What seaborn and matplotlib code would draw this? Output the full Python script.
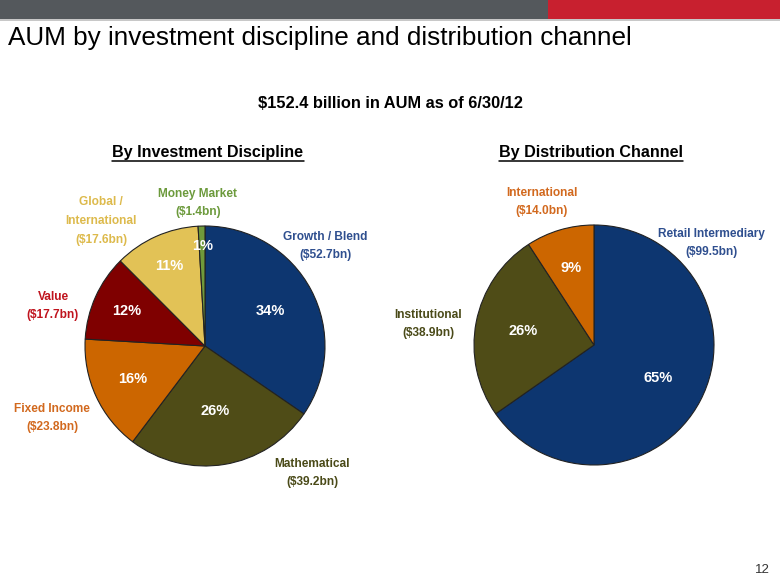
import matplotlib
matplotlib.use('Agg')
import matplotlib.pyplot as plt
import seaborn as sns
import numpy as np
from matplotlib.patches import Rectangle
from matplotlib.lines import Line2D

# ---------------- data ----------------
disc_names = ["Growth / Blend", "Mathematical", "Fixed Income", "Value", "Global /\nInternational", "Money Market"]
disc_values = [52.7, 39.2, 23.8, 17.7, 17.6, 1.4]
disc_pcts = ["34%", "26%", "16%", "12%", "11%", "1%"]

chan_names = ["Retail Intermediary", "Institutional", "International"]
chan_values = [99.5, 38.9, 14.0]
chan_pcts = ["65%", "26%", "9%"]

title = "AUM by investment discipline and distribution channel"
subtitle = "$152.4 billion in AUM as of 6/30/12"
left_header = "By Investment Discipline"
right_header = "By Distribution Channel"
page_no = "12"

# ---------------- style ----------------
W, H = 780, 585
sns.set_theme(style="white")
plt.rcParams['font.family'] = ['Liberation Sans Narrow', 'Liberation Sans', 'DejaVu Sans']

NAVY, OLIVE, ORANGE, DRED, YELLOW, GREEN = "#0D3670", "#4F4C17", "#CC6600", "#7F0000", "#E2C256", "#6F9A3B"
disc_colors = sns.color_palette([NAVY, OLIVE, ORANGE, DRED, YELLOW, GREEN])
chan_colors = sns.color_palette([NAVY, OLIVE, ORANGE])
disc_lab_colors = ["#2F4F8F", "#4A4A18", "#D2691E", "#C0141E", "#DDBA4C", "#6C9A3C"]
chan_lab_colors = ["#2F4F8F", "#4A4A18", "#D2691E"]

fig = plt.figure(figsize=(W / 100, H / 100), dpi=100)
fig.patch.set_facecolor("white")

def fx(x):
    return x / W

def fy(y):
    return 1 - y / H

# top bar
fig.patches.append(Rectangle((0, fy(19)), fx(548), 19 / H, transform=fig.transFigure,
                             facecolor="#54585C", edgecolor="none"))
fig.patches.append(Rectangle((fx(548), fy(19)), 1 - fx(548), 19 / H, transform=fig.transFigure,
                             facecolor="#C8202F", edgecolor="none"))
fig.patches.append(Rectangle((0, fy(20.5)), 1, 1.5 / H, transform=fig.transFigure,
                             facecolor="#C8C8C8", edgecolor="none"))

fig.text(fx(8), fy(38), title, fontsize=18.8, family=['Liberation Sans', 'DejaVu Sans'],
         color="black", ha="left", va="center")
fig.text(fx(390), fy(103), subtitle, fontsize=11.8, fontweight="bold", color="black",
         ha="center", va="center")

headers = []
for x, t in [(208, left_header), (591, right_header)]:
    headers.append(fig.text(fx(x), fy(152), t, fontsize=11.6, fontweight="bold",
                            color="black", ha="center", va="center"))

fig.text(fx(762), fy(570), page_no, fontsize=9.5, family=['Liberation Sans', 'DejaVu Sans'],
         color="#333333", ha="center", va="center")


def draw_pie(cx, cy, r, values, colors, pcts, pct_r):
    ax = fig.add_axes([fx(cx - r), fy(cy + r), 2 * r / W, 2 * r / H])
    wedges, _ = ax.pie(values, colors=colors, startangle=90, counterclock=False,
                       wedgeprops=dict(edgecolor="#222222", linewidth=0.8))
    for w in wedges:
        w.set_clip_on(False)
    ax.set_xlim(-1, 1)
    ax.set_ylim(-1, 1)
    ax.set_aspect("equal")
    ax.axis("off")
    for w, p, d in zip(wedges, pcts, pct_r):
        ang = np.deg2rad((w.theta1 + w.theta2) / 2)
        ax.text(d * np.cos(ang), d * np.sin(ang), p, color="white", fontsize=10.5,
                fontweight="bold", ha="center", va="center")
    return ax


draw_pie(205, 346, 120, disc_values, disc_colors, disc_pcts, [0.62, 0.55, 0.66, 0.72, 0.73, 0.83])
draw_pie(594, 345, 120, chan_values, chan_colors, chan_pcts, [0.6, 0.6, 0.67])

disc_lab_pos = [(325, 246), (312, 473), (52, 418), (53, 306), (101, 221), (198, 203)]
chan_lab_pos = [(711, 243), (428, 324), (542, 202)]

for names, vals, cols, poss in [(disc_names, disc_values, disc_lab_colors, disc_lab_pos),
                                (chan_names, chan_values, chan_lab_colors, chan_lab_pos)]:
    for n, v, c, (x, y) in zip(names, vals, cols, poss):
        fig.text(fx(x), fy(y), f"{n}\n(${v:.1f}bn)", color=c, fontsize=8.6,
                 fontweight="bold", ha="center", va="center", linespacing=1.75)

# underline headers
fig.canvas.draw()
r = fig.canvas.get_renderer()
for t in headers:
    bb = t.get_window_extent(r)
    ybase = bb.y0 - 1
    fig.add_artist(Line2D([bb.x0 / W, bb.x1 / W], [ybase / H, ybase / H],
                          transform=fig.transFigure, color="black", linewidth=1.1))

fig.savefig("out.png", dpi=100, facecolor="white")
